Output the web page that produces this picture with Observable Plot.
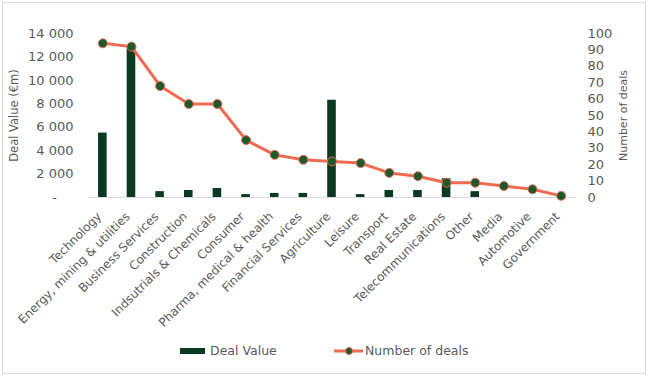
<!DOCTYPE html>
<html>
<head>
<meta charset="utf-8">
<script src="https://cdn.jsdelivr.net/npm/d3@7"></script>
<script src="https://cdn.jsdelivr.net/npm/@observablehq/plot@0.6"></script>
<style>
  body { margin: 0; background: #fff; font-family: "DejaVu Sans", sans-serif; }
  #wrap { position: relative; width: 650px; height: 377px; overflow: hidden; }
  #frame { position: absolute; left: 2px; top: 2px; width: 642px; height: 370px; border: 1px solid #d9d9d9; box-sizing: content-box; pointer-events: none; }
  #chart { position: absolute; left: 0; top: 0; }
  .leg { position: absolute; font-size: 12.5px; color: #595959; line-height: 14px; white-space: nowrap; }
</style>
</head>
<body>
<div id="wrap">
  <div id="frame"></div>
  <div id="chart"></div>
  <div id="legend"></div>
</div>
<script>
const categories = ["Technology","Energy, mining & utilities","Business Services","Construction","Indsutrials & Chemicals","Consumer","Pharma, medical & health","Financial Services","Agriculture","Leisure","Transport","Real Estate","Telecommunications","Other","Media","Automotive","Government"];
const dealValue = [5500,12800,500,600,770,250,350,350,8300,250,600,600,1600,500,0,0,0];
const numberOfDeals = [94,92,68,57,57,35,26,23,22,21,15,13,9,9,7,5,1];
const leftTicks = [0,2000,4000,6000,8000,10000,12000,14000];
const rightTicks = [0,10,20,30,40,50,60,70,80,90,100];
const seriesNames = ["Deal Value","Number of deals"];

const ratio = 14000 / 100;
const rows = categories.map((c, i) => ({cat: c, value: dealValue[i], deals: numberOfDeals[i]}));

const barColor = "#0b3a22";
const lineColor = "#ef6a50";
const dotColor = "#1c5a2d";
const textColor = "#595959";

const fmtLeft = d => d === 0 ? "-\u2007\u2007" : d3.format(",")(d).replace(/,/g, " ");

const chart = Plot.plot({
  width: 650,
  height: 330,
  marginLeft: 88,
  marginRight: 75,
  marginTop: 33,
  marginBottom: 133,
  style: {fontFamily: "DejaVu Sans", fontSize: "12px", color: textColor, background: "transparent"},
  x: {domain: categories, paddingInner: 0.7, paddingOuter: 0.35, round: false, label: null},
  y: {domain: [0, 14000], label: null},
  marks: [
    Plot.ruleY([0], {stroke: "#d9d9d9", strokeWidth: 1}),
    Plot.barY(rows, {x: "cat", y: "value", fill: barColor}),
    Plot.line(rows, {x: "cat", y: d => d.deals * ratio, stroke: lineColor, strokeWidth: 3}),
    Plot.dot(rows, {x: "cat", y: d => d.deals * ratio, r: 4.5, fill: dotColor, stroke: lineColor, strokeWidth: 1}),
    Plot.axisX({tickRotate: -45, tickSize: 0, tickPadding: 6, fontSize: 12, dx: -3.5, dy: 11, label: null}),
    Plot.axisY({ticks: leftTicks, tickFormat: fmtLeft, tickSize: 0, tickPadding: 15, fontSize: 13, label: null}),
    Plot.axisY({anchor: "right", ticks: rightTicks.map(d => d * ratio), tickFormat: d => String(Math.round(d / ratio)), tickSize: 0, tickPadding: 12, fontSize: 13, label: null}),
    Plot.text(["Deal Value (€m)"], {frameAnchor: "left", textAnchor: "middle", dx: -74, rotate: -90, fontSize: 11.5, fill: textColor}),
    Plot.text(["Number of deals"], {frameAnchor: "right", textAnchor: "middle", dx: 48, rotate: -90, fontSize: 11, fill: textColor})
  ]
});
document.getElementById("chart").appendChild(chart);

const legend = document.getElementById("legend");
legend.innerHTML = `
  <div style="position:absolute;left:180px;top:348px;width:25px;height:6px;background:${barColor}"></div>
  <div class="leg" style="left:210px;top:344px">${seriesNames[0]}</div>
  <svg style="position:absolute;left:333px;top:345px" width="31" height="12">
    <line x1="1" y1="6" x2="30" y2="6" stroke="${lineColor}" stroke-width="3"/>
    <circle cx="16" cy="6" r="3.5" fill="${dotColor}" stroke="${lineColor}" stroke-width="1"/>
  </svg>
  <div class="leg" style="left:365px;top:344px">${seriesNames[1]}</div>
`;
</script>
</body>
</html>
